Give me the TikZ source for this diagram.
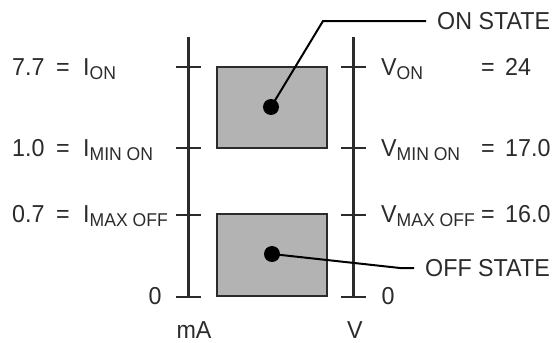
\documentclass[tikz,border=0pt]{standalone}
\usepackage{fontspec}
\setmainfont{Liberation Sans}[FakeStretch=0.95]
\definecolor{ink}{HTML}{2B2B2B}
\definecolor{boxgray}{HTML}{B3B3B3}
\newcommand{\lowsub}[1]{\raisebox{-4.5pt}{\fontsize{18.5}{18.5}\selectfont #1}}
\begin{document}
\begin{tikzpicture}[x=1pt,y=-1pt,
  txt/.style={inner sep=0pt, font={\fontsize{24.5}{24.5}\selectfont}, text=ink},
  axisline/.style={line width=3pt, draw=ink},
  tickline/.style={line width=1.6pt, draw=ink},
  statebox/.style={draw=ink, line width=1.2pt, fill=boxgray, minimum width=110pt, inner sep=0pt},
  dot/.style={circle, fill=black, minimum size=16pt, inner sep=0pt},
  leader/.style={line width=2pt, draw=black}]
\useasboundingbox (0,0) rectangle (558,343);

% boxes
\node[statebox, minimum height=81pt] (onbox) at (272,107.5) {};
\node[statebox, minimum height=82pt] (offbox) at (272,255) {};

% axes
\coordinate (la-top) at (188.5,37);
\coordinate (la-bot) at (188.5,297);
\coordinate (ra-top) at (353.5,37);
\coordinate (ra-bot) at (353.5,297);
\draw[axisline] (la-top) -- (la-bot);
\draw[axisline] (ra-top) -- (ra-bot);
\foreach \y in {67,148,215,297}{
  \draw[tickline] (176,\y) -- (201,\y);
  \draw[tickline] (341,\y) -- (366,\y);
}

% left labels
\node[txt, anchor=base west] (l1n) at (12,75) {7.7};
\node[txt, anchor=base] (l1e) at (63,75) {=};
\node[txt, anchor=base west] (l1i) at (83,75) {I\lowsub{ON}};
\node[txt, anchor=base west] (l2n) at (12,156) {1.0};
\node[txt, anchor=base] (l2e) at (63,156) {=};
\node[txt, anchor=base west] (l2i) at (83,156) {I\lowsub{MIN ON}};
\node[txt, anchor=base west] (l3n) at (12,222) {0.7};
\node[txt, anchor=base] (l3e) at (63,222) {=};
\node[txt, anchor=base west] (l3i) at (83,222) {I\lowsub{MAX OFF}};
\node[txt, anchor=base] (l0) at (155,304) {0};

% right labels
\node[txt, anchor=base west] (r1v) at (381,75) {V\lowsub{ON}};
\node[txt, anchor=base] (r1e) at (488,75) {=};
\node[txt, anchor=base west] (r1n) at (505,75) {24};
\node[txt, anchor=base west] (r2v) at (381,156) {V\lowsub{MIN ON}};
\node[txt, anchor=base] (r2e) at (488,156) {=};
\node[txt, anchor=base west] (r2n) at (505,156) {17.0};
\node[txt, anchor=base west] (r3v) at (381,222) {V\lowsub{MAX OFF}};
\node[txt, anchor=base] (r3e) at (488,222) {=};
\node[txt, anchor=base west] (r3n) at (505,222) {16.0};
\node[txt, anchor=base] (r0) at (388,304) {0};

% units
\node[txt, anchor=base] (uma) at (194,338) {mA};
\node[txt, anchor=base] (uv) at (355,338) {V};

% state labels and leaders
\node[dot] (ondot) at (271,107) {};
\node[dot] (offdot) at (272,254) {};
\node[txt, anchor=base west, inner xsep=11pt] (onstate) at (426,29) {ON STATE};
\node[txt, anchor=base west, inner xsep=11pt] (offstate) at (414,276) {OFF STATE};
\coordinate (onknee) at (323,21);
\coordinate (offknee) at (400,268);
\draw[leader] (ondot.center) -- (onknee) -- (onknee -| onstate.west);
\draw[leader] (offdot.center) -- (offknee) -- (offknee -| offstate.west);
\end{tikzpicture}
\end{document}
